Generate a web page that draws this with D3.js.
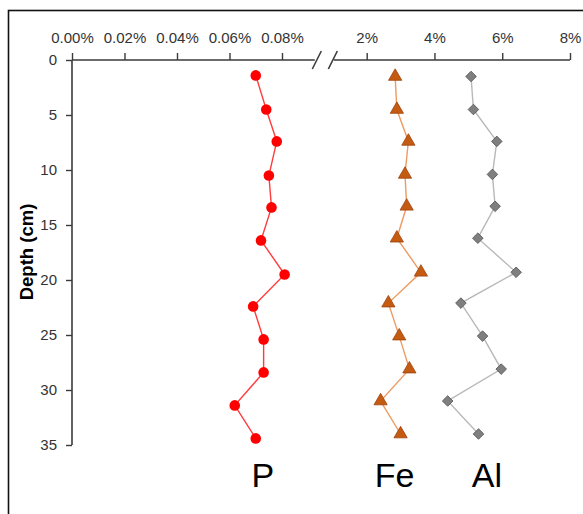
<!DOCTYPE html>
<html>
<head>
<meta charset="utf-8">
<script src="https://cdn.jsdelivr.net/npm/d3@7"></script>
<style>
  html, body { margin: 0; padding: 0; background: #fff; overflow: hidden; }
  svg { display: block; }
</style>
</head>
<body>
<svg id="chart" width="583" height="514"></svg>
<script>
// ---- data ----
const depthP    = [1.4, 4.5, 7.4, 10.5, 13.4, 16.4, 19.5, 22.4, 25.4, 28.4, 31.4, 34.4];
const valuesP   = [0.070, 0.074, 0.078, 0.075, 0.076, 0.072, 0.081, 0.069, 0.073, 0.073, 0.062, 0.070];
const depthFeAl = [1.5, 4.5, 7.4, 10.4, 13.3, 16.2, 19.3, 22.1, 25.1, 28.1, 31.0, 34.0];
const valuesFe  = [2.84, 2.89, 3.23, 3.13, 3.18, 2.89, 3.60, 2.64, 2.96, 3.26, 2.41, 3.00];
const valuesAl  = [5.08, 5.15, 5.84, 5.71, 5.79, 5.28, 6.41, 4.78, 5.42, 5.97, 4.39, 5.30];
const ticksP    = [0, 0.02, 0.04, 0.06, 0.08];
const ticksFeAl = [2, 4, 6, 8];
const ticksDepth = [0, 5, 10, 15, 20, 25, 30, 35];
const seriesLabels = ["P", "Fe", "Al"];

// ---- layout ----
const svg = d3.select("#chart");
const axisColor = "#3a3a3a";
const labelColor = "#333";
const tickFont = "'Liberation Sans', Arial, sans-serif";

// frame
svg.append("rect")
  .attr("x", 8.5).attr("y", 10.5)
  .attr("width", 700).attr("height", 700)
  .attr("fill", "none").attr("stroke", "#111").attr("stroke-width", 1.6);

const y  = d3.scaleLinear().domain([0, 35]).range([60, 445]);
const xP = d3.scaleLinear().domain([0, 0.08]).range([72, 282]);
const x2 = d3.scaleLinear().domain([2, 8]).range([366.7, 570]);

// y axis
const yAxis = d3.axisLeft(y).tickValues(ticksDepth).tickSize(6).tickPadding(9).tickFormat(d3.format("d"));
const gy = svg.append("g").attr("transform", "translate(72,0)").call(yAxis);
gy.select(".domain").remove();
gy.append("line").attr("x1", 0).attr("x2", 0).attr("y1", y(0)).attr("y2", y(35))
  .attr("stroke", axisColor).attr("stroke-width", 1.6);
gy.selectAll(".tick line").attr("stroke", axisColor).attr("stroke-width", 1.4);
gy.selectAll(".tick text").attr("fill", labelColor).style("font-family", tickFont).style("font-size", "15px");

// top axis P
const axP = d3.axisTop(xP).tickValues(ticksP).tickSize(7).tickPadding(10)
  .tickFormat(d => d3.format(".2f")(d) + "%");
const gP = svg.append("g").attr("transform", "translate(0,60)").call(axP);
gP.select(".domain").remove();
gP.append("line").attr("x1", xP(0)).attr("x2", xP(0.0925)).attr("y1", 0).attr("y2", 0)
  .attr("stroke", axisColor).attr("stroke-width", 1.6);

// top axis Fe/Al
const axF = d3.axisTop(x2).tickValues(ticksFeAl).tickSize(7).tickPadding(10)
  .tickFormat(d => d + "%");
const gF = svg.append("g").attr("transform", "translate(0,60)").call(axF);
gF.select(".domain").remove();
gF.append("line").attr("x1", x2(1.03)).attr("x2", x2(8)).attr("y1", 0).attr("y2", 0)
  .attr("stroke", axisColor).attr("stroke-width", 1.6);

[gP, gF].forEach(g => {
  g.selectAll(".tick line").attr("stroke", axisColor).attr("stroke-width", 1.4);
  g.selectAll(".tick text").attr("fill", labelColor).style("font-family", tickFont).style("font-size", "15px");
});

// axis break slashes
const breakG = svg.append("g").attr("stroke", axisColor).attr("stroke-width", 1.6);
[xP(0.0925) + 2, x2(1.03) - 1].forEach(cx => {
  breakG.append("line").attr("x1", cx - 4.5).attr("y1", 69).attr("x2", cx + 4.5).attr("y2", 51);
});

// y title
svg.append("text")
  .attr("transform", "translate(33,252) rotate(-90)")
  .attr("text-anchor", "middle")
  .style("font-family", tickFont).style("font-weight", "bold").style("font-size", "18.5px")
  .attr("fill", "#000")
  .text("Depth (cm)");

// ---- series ----
function drawSeries(xs, ds, scale, lineColor, drawMarker) {
  const pts = xs.map((v, i) => [scale(v), y(ds[i])]);
  svg.append("path").attr("d", d3.line()(pts))
    .attr("fill", "none").attr("stroke", lineColor).attr("stroke-width", 1.4);
  const g = svg.append("g");
  pts.forEach(p => drawMarker(g, p));
}

drawSeries(valuesP, depthP, xP, "#ff3c3c", (g, p) => {
  g.append("circle").attr("cx", p[0]).attr("cy", p[1]).attr("r", 5.3).attr("fill", "#ff0000");
});

const tri = d3.symbol().type(d3.symbolTriangle).size(76);
drawSeries(valuesFe, depthFeAl, x2, "#ee9a62", (g, p) => {
  g.append("path").attr("d", tri()).attr("transform", `translate(${p[0]},${p[1]})`)
    .attr("fill", "#c55a11").attr("stroke", "#9c4510").attr("stroke-width", 0.8);
});

const sq = d3.symbol().type(d3.symbolSquare).size(56);
drawSeries(valuesAl, depthFeAl, x2, "#b8b8b8", (g, p) => {
  g.append("path").attr("d", sq()).attr("transform", `translate(${p[0]},${p[1]}) rotate(45)`)
    .attr("fill", "#7f7f7f").attr("stroke", "#555").attr("stroke-width", 0.8);
});

// series labels
const labelX = [xP(0.0727), x2(2.82), x2(5.55)];
svg.append("g").selectAll("text").data(seriesLabels).join("text")
  .attr("x", (d, i) => labelX[i]).attr("y", 487)
  .attr("text-anchor", "middle")
  .style("font-family", tickFont).style("font-size", "34px")
  .attr("fill", "#000")
  .text(d => d);
</script>
</body>
</html>
